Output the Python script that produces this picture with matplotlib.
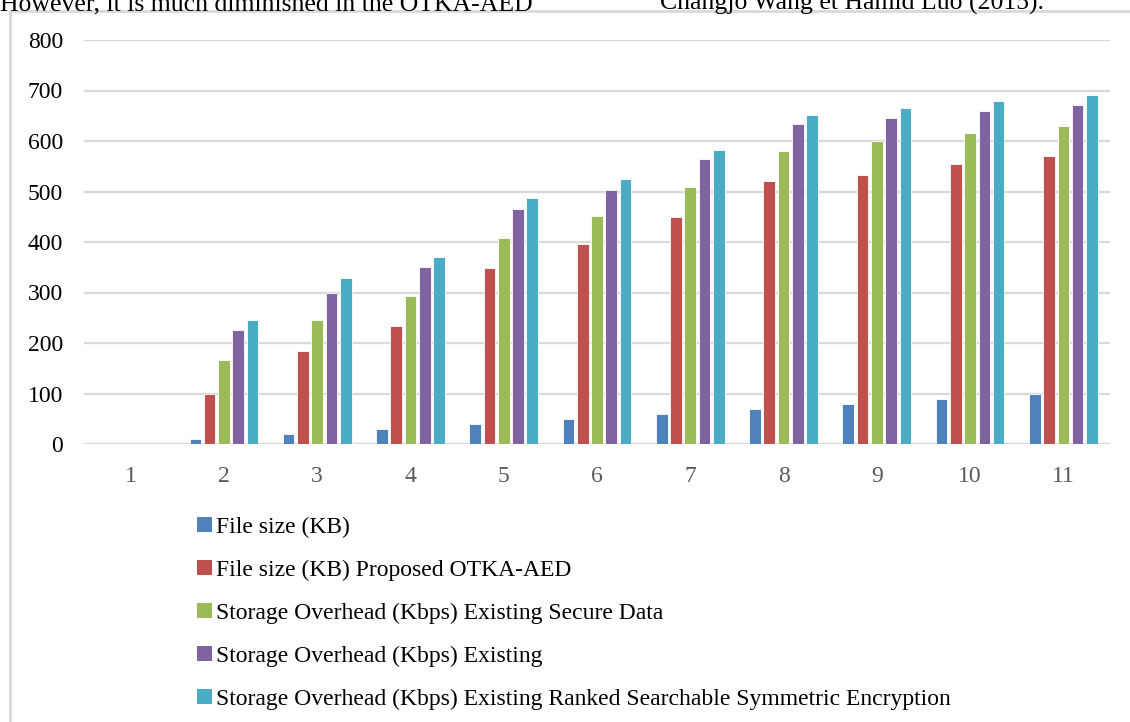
import numpy as np
import matplotlib
matplotlib.use("Agg")
import matplotlib.pyplot as plt
from matplotlib.patches import Rectangle, Patch

# categories and series
categories = [str(i) for i in range(1, 12)]
file_size = [0, 10, 20, 30, 40, 50, 60, 70, 80, 90, 100]
otka_aed = [0, 100, 184, 234, 348, 396, 449, 520, 532, 554, 570]
secure_data = [0, 167, 245, 293, 408, 452, 509, 580, 600, 615, 630]
existing = [0, 225, 299, 351, 466, 503, 564, 633, 646, 660, 671]
ranked_sse = [0, 245, 328, 371, 487, 524, 583, 652, 666, 680, 692]

labels = [
    "File size (KB)",
    "File size (KB) Proposed OTKA-AED",
    "Storage Overhead (Kbps) Existing Secure Data",
    "Storage Overhead (Kbps) Existing",
    "Storage Overhead (Kbps) Existing Ranked Searchable Symmetric Encryption",
]
series = [file_size, otka_aed, secure_data, existing, ranked_sse]
colors = ["#4F81BD", "#C0504D", "#9BBB59", "#8064A2", "#4BACC6"]

serif = ['Liberation Serif', 'DejaVu Serif']
plt.rcParams['font.family'] = serif

fig = plt.figure(figsize=(11.3, 7.22), dpi=100)

# outer chart border (light gray, cut by the image edge)
fig.patches.append(Rectangle((10 / 1130, -0.1), 1.2, 1 - 11 / 722 + 0.1,
                             transform=fig.transFigure, fill=False,
                             edgecolor="#d9d9d9", linewidth=2))

# cut-off line of body text above the chart
fig.text(0.0, 1 - 10 / 722, "However, it is much diminished in the OTKA-AED",
         fontsize=18.5, family=serif, va="baseline", ha="left", color="black")
fig.text(660 / 1130, 1 - 10 / 722, "Changjo Wang et Hamid Luo (2015).",
         fontsize=18.5, family=serif, va="baseline", ha="left", color="black")

ax = fig.add_axes([84 / 1130, 1 - 444 / 722, 1026 / 1130, 404 / 722])

x = np.arange(1, len(categories) + 1)
step = 0.153
width = 0.125
for i, (vals, col) in enumerate(zip(series, colors)):
    ax.bar(x + (i - 2) * step, vals, width, color=col, edgecolor="white",
           linewidth=0.6, zorder=3)

ax.set_xlim(0.5, 11.5)
ax.set_ylim(0, 800)
ax.set_yticks(range(0, 801, 100))
ax.set_xticks(x)
ax.set_xticklabels(categories)
ax.yaxis.grid(True, color="#d9d9d9", linewidth=1.6, zorder=0)
ax.set_axisbelow(True)
for s in ax.spines.values():
    s.set_visible(False)
ax.tick_params(axis="both", length=0)
ax.tick_params(axis="y", labelsize=17, pad=15, labelcolor="black")
ax.tick_params(axis="x", labelsize=17, pad=16, labelcolor="#595959")
for t in ax.get_xticklabels() + ax.get_yticklabels():
    t.set_family(serif)
ax.axhline(0, color="#d9d9d9", linewidth=1.6, zorder=2)

handles = [Patch(facecolor=c, edgecolor="none") for c in colors]
fig.legend(handles, labels, loc="upper left",
           bbox_to_anchor=(188 / 1130, 1 - 507 / 722), frameon=False,
           prop={'family': serif, 'size': 17}, handlelength=0.6,
           handleheight=0.6, handletextpad=0.2, labelspacing=0.93,
           borderaxespad=0)

fig.savefig("out.png", dpi=100)
